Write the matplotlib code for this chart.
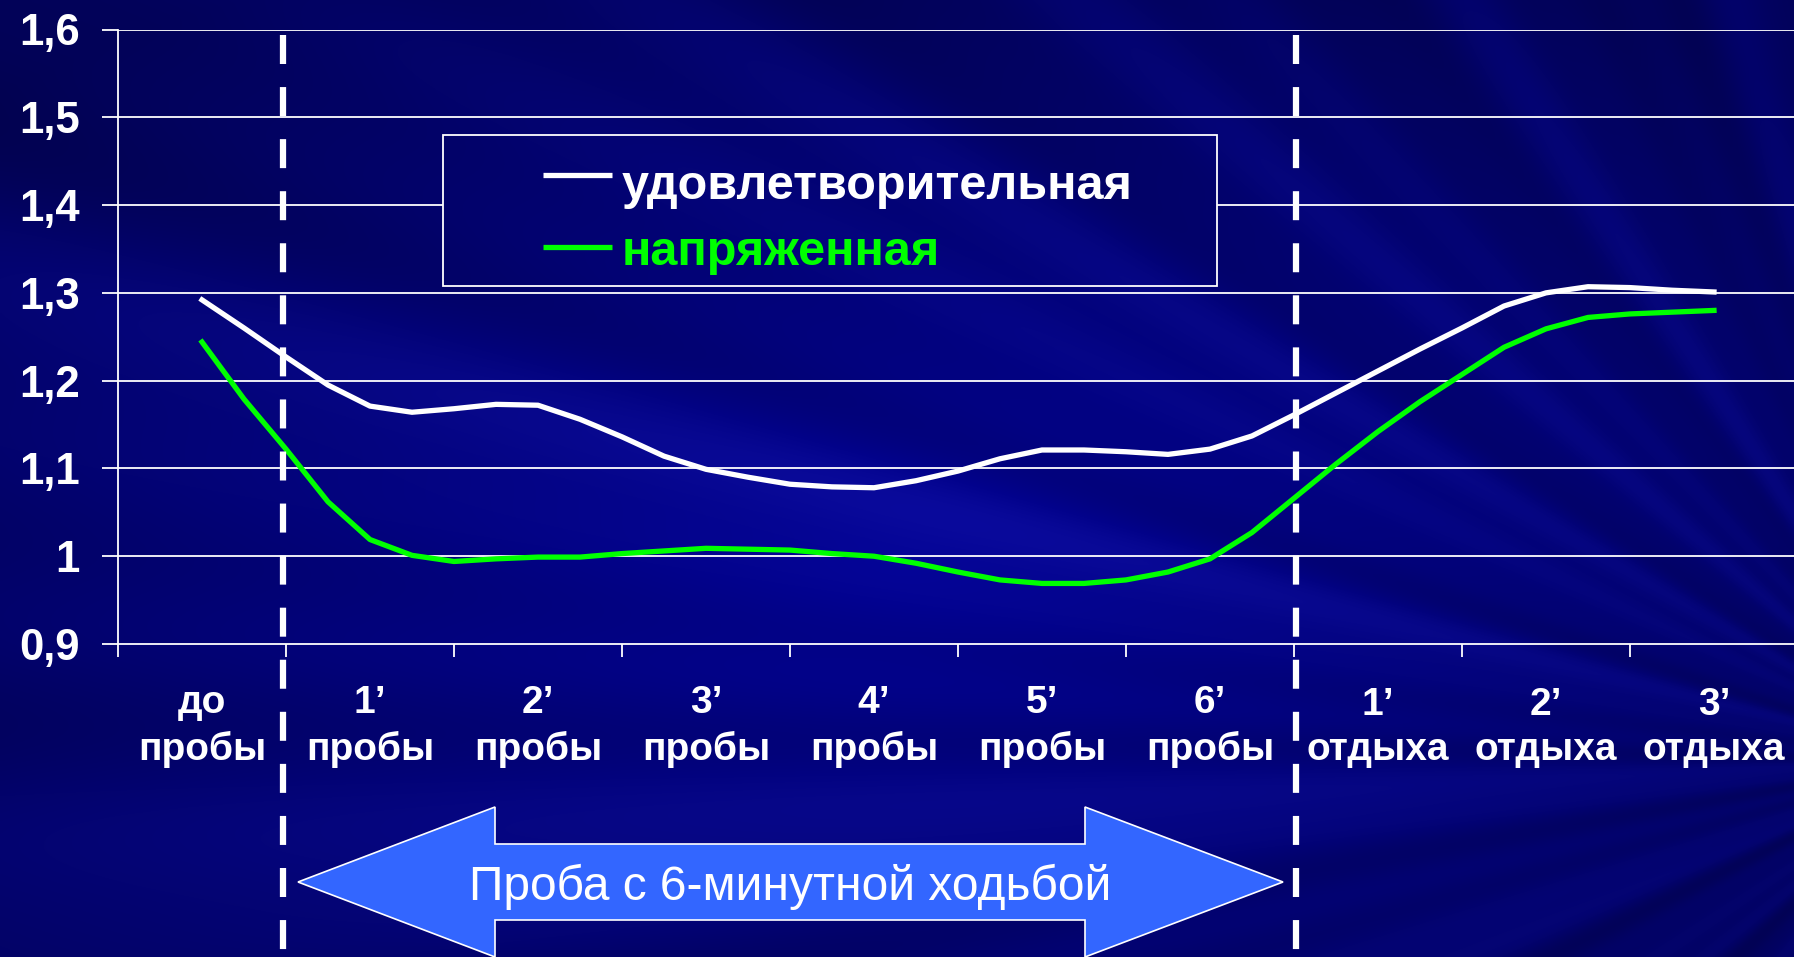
import numpy as np
import matplotlib.pyplot as plt
from matplotlib.patches import Polygon, Rectangle
from matplotlib.lines import Line2D
import matplotlib.transforms as mtransforms

plt.rcParams['font.family'] = ['Liberation Sans', 'DejaVu Sans']

# categories on the x axis (two-line labels)
categories = ["до\nпробы", "1’\nпробы", "2’\nпробы", "3’\nпробы", "4’\nпробы",
              "5’\nпробы", "6’\nпробы", "1’\nотдыха", "2’\nотдыха", "3’\nотдыха"]
yticks = [0.9, 1.0, 1.1, 1.2, 1.3, 1.4, 1.5, 1.6]
ytick_labels = ["0,9", "1", "1,1", "1,2", "1,3", "1,4", "1,5", "1,6"]

# values every quarter of a category
x_pos = [0, 0.25, 0.5, 0.75, 1, 1.25, 1.5, 1.75, 2, 2.25, 2.5, 2.75, 3, 3.25, 3.5, 3.75,
         4, 4.25, 4.5, 4.75, 5, 5.25, 5.5, 5.75, 6, 6.25, 6.5, 6.75, 7, 7.25, 7.5, 7.75,
         8, 8.25, 8.5, 8.75, 9]
satisfactory = [1.292, 1.260, 1.227, 1.195, 1.171, 1.164, 1.168, 1.173, 1.172, 1.156,
                1.136, 1.114, 1.099, 1.090, 1.082, 1.079, 1.078, 1.086, 1.097, 1.111,
                1.121, 1.121, 1.119, 1.116, 1.122, 1.137, 1.161, 1.186, 1.211, 1.236,
                1.260, 1.285, 1.300, 1.307, 1.306, 1.303, 1.301]
tense = [1.244, 1.179, 1.122, 1.062, 1.019, 1.001, 0.994, 0.997, 0.999, 0.999,
         1.003, 1.006, 1.009, 1.008, 1.007, 1.003, 1.000, 0.992, 0.982, 0.973,
         0.969, 0.969, 0.973, 0.982, 0.997, 1.027, 1.066, 1.105, 1.142, 1.176,
         1.207, 1.238, 1.259, 1.272, 1.276, 1.278, 1.280]
series_names = ["удовлетворительная", "напряженная"]
series_colors = ["white", "#00ff00"]
arrow_text = "Проба с 6-минутной ходьбой"

W, H = 1794, 957
fig = plt.figure(figsize=(W / 100, H / 100), dpi=100)

# slide background: dark blue with light rays
yy, xx = np.mgrid[0:H:2, 0:W:2]
ang = np.arctan2(yy - 760.0, xx - 1950.0)
rays = (np.sin(ang * 23) + 0.6 * np.sin(ang * 41 + 1.3) + 0.4 * np.sin(ang * 67 + 0.4)) / 2.0
glow = np.clip(1 - np.hypot((xx - 900) / 1300, (yy - 560) / 650), 0, 1)
blue = 0.36 + 0.22 * glow + 0.06 * rays
red = 0.01 + 0.04 * np.clip(rays, 0, 1) * glow
bg = np.dstack([red, red, np.clip(blue, 0, 1)])

bg_ax = fig.add_axes([0, 0, 1, 1], zorder=0)
bg_ax.imshow(bg, extent=[0, W, H, 0], aspect='auto', interpolation='bilinear')
bg_ax.set_xlim(0, W)
bg_ax.set_ylim(H, 0)
bg_ax.axis('off')

# main chart
x0, x1 = 118, 1798
y_top, y_bot = 29.5, 644
ax = fig.add_axes([x0 / W, 1 - y_bot / H, (x1 - x0) / W, (y_bot - y_top) / H], zorder=1)
ax.set_facecolor('none')
ax.set_xlim(-0.5, len(categories) - 0.5)
ax.set_ylim(0.9, 1.6)

for v in yticks[1:]:
    ax.axhline(v, color='white', lw=1.3, zorder=1)

ax.plot(x_pos, satisfactory, color=series_colors[0], lw=3.8, zorder=3)
ax.plot(x_pos, tense, color=series_colors[1], lw=3.8, zorder=3)

for s in ['top', 'right']:
    ax.spines[s].set_visible(False)
for s in ['left', 'bottom']:
    ax.spines[s].set_color('white')
    ax.spines[s].set_linewidth(1.3)

ax.set_yticks(yticks)
ax.set_yticklabels(ytick_labels)
ax.tick_params(axis='y', colors='white', length=11.5, width=1.3, pad=16,
               labelsize=31.5)
for t in ax.get_yticklabels():
    t.set_fontweight('bold')

ax.set_xticks(np.arange(-0.5, len(categories) + 0.5, 1.0))
ax.set_xticklabels([])
ax.tick_params(axis='x', colors='white', length=9, width=1.3)

trans = mtransforms.blended_transform_factory(ax.transData, fig.transFigure)
for i, lab in enumerate(categories):
    ax.text(i, 1 - 760 / H, lab, transform=trans, ha='center', va='baseline',
            fontsize=28, fontweight='bold', color='white', linespacing=1.33)

# dashed separators (start and end of the walk test)
for xv in [0.48, 6.51]:
    ax.add_line(Line2D([xv, xv], [1 - 35 / H, 0], transform=trans, color='white',
                       lw=4.5, ls=(0, (4.64, 3.69)), dash_capstyle='butt',
                       clip_on=False, zorder=5))

# legend box, filled with the slide background
lg_ax = fig.add_axes([0, 0, 1, 1], zorder=2)
lg_ax.set_xlim(0, W)
lg_ax.set_ylim(H, 0)
lg_ax.axis('off')
box = Rectangle((443, 135), 1217 - 443, 286 - 135, fill=False, ec='white', lw=1.3)
lg_ax.add_patch(box)
im = lg_ax.imshow(bg, extent=[0, W, H, 0], aspect='auto', interpolation='bilinear')
im.set_clip_path(box)
lg_ax.set_xlim(0, W)
lg_ax.set_ylim(H, 0)
for name, col, yh, yb in zip(series_names, series_colors, [175, 247], [199, 265]):
    lg_ax.plot([543, 612], [yh, yh], color=col, lw=3.8, solid_capstyle='butt')
    lg_ax.text(622, yb, name, color=col, fontsize=35, fontweight='bold',
               ha='left', va='baseline')

# double-headed block arrow
arrow_pts = [(298, 882), (495, 807), (495, 844), (1085, 844), (1085, 807), (1283, 882),
             (1085, 957), (1085, 920), (495, 920), (495, 957)]
lg_ax.add_patch(Polygon(arrow_pts, closed=True, fc='#3366ff', ec='white', lw=1.2,
                        clip_on=False))
lg_ax.text(790, 882, arrow_text, color='white', fontsize=34.5, ha='center',
           va='center_baseline')

fig.savefig('out.png', dpi=100)
